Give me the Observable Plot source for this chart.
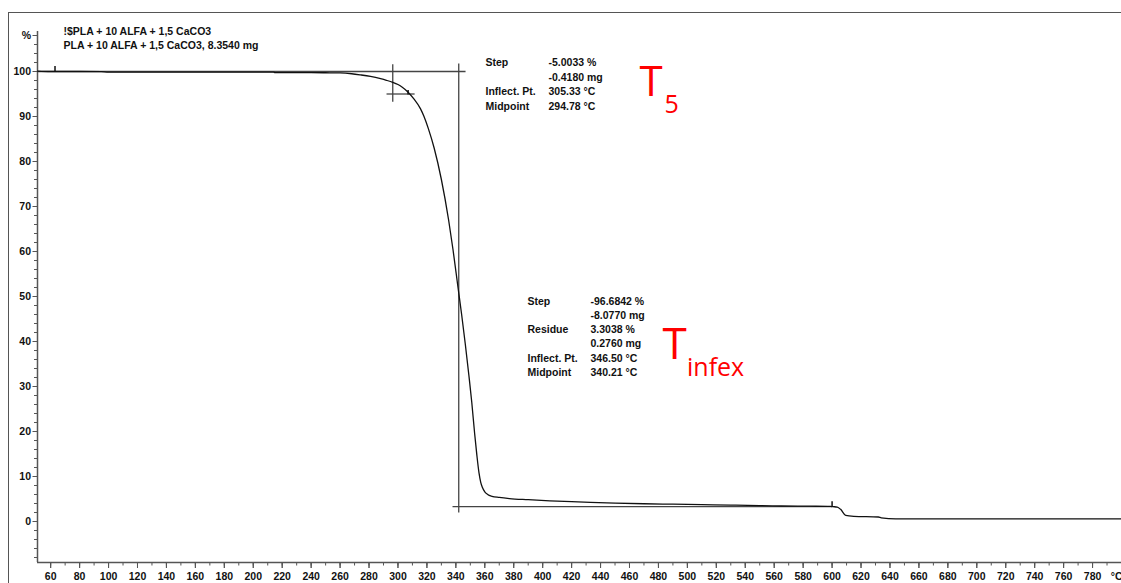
<!DOCTYPE html>
<html><head><meta charset="utf-8">
<script src="https://cdn.jsdelivr.net/npm/d3@7"></script>
<script src="https://cdn.jsdelivr.net/npm/@observablehq/plot@0.6"></script>
<style>
body{margin:0;background:#fff;}
#wrap{position:relative;width:1121px;height:583px;overflow:hidden;background:#fff}
#frame{position:absolute;left:8px;top:12px;width:1300px;height:800px;border-left:1.5px solid #555;border-top:1.5px solid #555;pointer-events:none}
</style></head><body>
<div id="wrap"><div id="chart"></div><div id="frame"></div></div>
<script>
// TGA curve: temperature (°C) and mass (%)
const temperature = [51, 60, 80, 95, 100, 150, 200, 214, 215, 240, 250, 260, 268, 274, 281, 288, 292, 296.4, 300, 303, 307, 311, 315.6, 318, 321, 325, 330, 335, 338, 341.5, 344, 346.5, 349, 351, 353, 354.5, 356, 357.2, 358.3, 360, 362, 365, 370, 377, 390, 405, 420, 433, 450, 470, 490, 510, 530, 550, 565, 585, 599, 600.5, 603.6, 605.9, 609.4, 615, 632, 634, 644, 700, 800];
const massPct =     [100.1, 100.0, 100.0, 99.95, 99.85, 99.85, 99.85, 99.85, 99.75, 99.75, 99.72, 99.68, 99.5, 99.25, 98.9, 98.4, 98.05, 97.6, 97.1, 96.5, 95.4, 93.9, 91.7, 90.0, 87.3, 83.0, 76.0, 67.0, 60.5, 52.0, 46.0, 39.5, 32.5, 26.5, 19.5, 14.8, 10.8, 8.7, 7.6, 6.6, 6.0, 5.6, 5.35, 5.1, 4.85, 4.6, 4.4, 4.25, 4.1, 3.95, 3.85, 3.75, 3.65, 3.55, 3.45, 3.4, 3.35, 3.3, 3.2, 2.7, 1.35, 1.15, 1.0, 0.8, 0.6, 0.6, 0.6];

// evaluation construction lines (x1,y1)-(x2,y2)
const consX1 = [51, 342, 337.7, 296.4, 292.1];
const consX2 = [346.7, 342, 600, 296.4, 311.5];
const consY1 = [100, 101.8, 3.3, 101.6, 95];
const consY2 = [100, 2.0, 3.3, 93.3, 95];

// small event markers on the curve
const markT = [63, 307, 600];
const markLo = [99.9, 94.9, 3.3];
const markHi = [101.2, 95.9, 4.5];

// axes
const xDomain = [50.9, 800];
const yDomain = [-9.111, 108.889];
const xMajor = d3.range(60, 801, 20);
const xLabeled = d3.range(60, 781, 20);
const xMinor = d3.range(60, 801, 10);
const xUnit = "°C";
const yMajor = [0, 10, 20, 30, 40, 50, 60, 70, 80, 90, 100, 108];
const yMinor = d3.range(-8, 107, 2);

// texts
const headerLines = ["!$PLA + 10 ALFA + 1,5 CaCO3", "PLA + 10 ALFA + 1,5 CaCO3, 8.3540 mg"];
const step1Labels = ["Step", "", "Inflect. Pt.", "Midpoint"];
const step1Values = ["-5.0033 %", "-0.4180 mg", "305.33 °C", "294.78 °C"];
const step2Labels = ["Step", "", "Residue", "", "Inflect. Pt.", "Midpoint"];
const step2Values = ["-96.6842 %", "-8.0770 mg", "3.3038 %", "0.2760 mg", "346.50 °C", "340.21 °C"];

const curve = temperature.map((t, i) => ({t, v: massPct[i]}));
const cons = consX1.map((x1, i) => ({x1, x2: consX2[i], y1: consY1[i], y2: consY2[i]}));
const marks = markT.map((t, i) => ({t, lo: markLo[i], hi: markHi[i]}));

const txt = (s, o) => Plot.text([s], {text: d => d, frameAnchor: "top-left", textAnchor: "start", lineAnchor: "bottom", ...o});

const plot = Plot.plot({
  width: 1121, height: 583,
  marginLeft: 37, marginRight: 0, marginTop: 31, marginBottom: 21,
  x: {domain: xDomain},
  y: {domain: yDomain},
  style: {fontFamily: "'Liberation Sans', Arial, Helvetica, sans-serif", fontSize: "10.5px", fontWeight: "bold", color: "#111", background: "transparent", overflow: "visible"},
  marks: [
    Plot.ruleX([xDomain[0]], {stroke: "#555", strokeWidth: 1.5}),
    Plot.ruleY([yDomain[0]], {stroke: "#555", strokeWidth: 1.5}),
    Plot.axisY({ticks: yMinor, tickSize: 3, text: null, stroke: "#555", label: null}),
    Plot.axisY({ticks: yMajor, tickSize: 4.5, tickPadding: 2, stroke: "#555", fill: "#111", label: null, tickFormat: d => d === 108 ? "%" : String(d)}),
    Plot.axisX({ticks: xMinor, tickSize: 3.5, text: null, stroke: "#555", label: null}),
    Plot.axisX({ticks: xMajor, tickSize: 6, text: null, stroke: "#555", label: null}),
    Plot.axisX({ticks: xLabeled, tickSize: 6, tickPadding: 4, stroke: "#555", fill: "#111", label: null, tickFormat: d => String(d)}),
    Plot.text([xUnit], {text: d => d, frameAnchor: "bottom-right", textAnchor: "end", lineAnchor: "top", dy: 10, dx: 1, fill: "#111"}),
    Plot.link(cons, {x1: "x1", y1: "y1", x2: "x2", y2: "y2", stroke: "#444", strokeWidth: 1.3}),
    Plot.line(curve, {x: "t", y: "v", stroke: "#111", strokeWidth: 1.3, curve: "monotone-x"}),
    Plot.link(marks, {x1: "t", x2: "t", y1: "lo", y2: "hi", stroke: "#111", strokeWidth: 1.5}),
    txt(headerLines.join("\n"), {dx: 26, dy: 17.5, lineHeight: 1.333, fontWeight: "bold", fill: "#111"}),
    txt(step1Labels.join("\n"), {dx: 448, dy: 78.5, lineHeight: 1.4, fontWeight: "bold", fill: "#111"}),
    txt(step1Values.join("\n"), {dx: 511, dy: 78.5, lineHeight: 1.4, fontWeight: "bold", fill: "#111"}),
    txt(step2Labels.join("\n"), {dx: 490, dy: 344.5, lineHeight: 1.362, fontWeight: "bold", fill: "#111"}),
    txt(step2Values.join("\n"), {dx: 553, dy: 344.5, lineHeight: 1.362, fontWeight: "bold", fill: "#111"}),
    txt("T", {dx: 602, dy: 64, fontSize: 42, fill: "#ff0000", fontFamily: "'Open Sans', 'Noto Sans', sans-serif", fontWeight: "normal"}),
    txt("5", {dx: 627, dy: 81.7, fontSize: 25, fill: "#ff0000", fontFamily: "'Open Sans', 'Noto Sans', sans-serif", fontWeight: "normal"}),
    txt("T", {dx: 625, dy: 327.3, fontSize: 44, fill: "#ff0000", fontFamily: "'Open Sans', 'Noto Sans', sans-serif", fontWeight: "normal"}),
    txt("infex", {dx: 649.5, dy: 344, fontSize: 25, fill: "#ff0000", fontFamily: "'Open Sans', 'Noto Sans', sans-serif", fontWeight: "normal"})
  ]
});
document.getElementById("chart").appendChild(plot);
</script>
</body></html>
